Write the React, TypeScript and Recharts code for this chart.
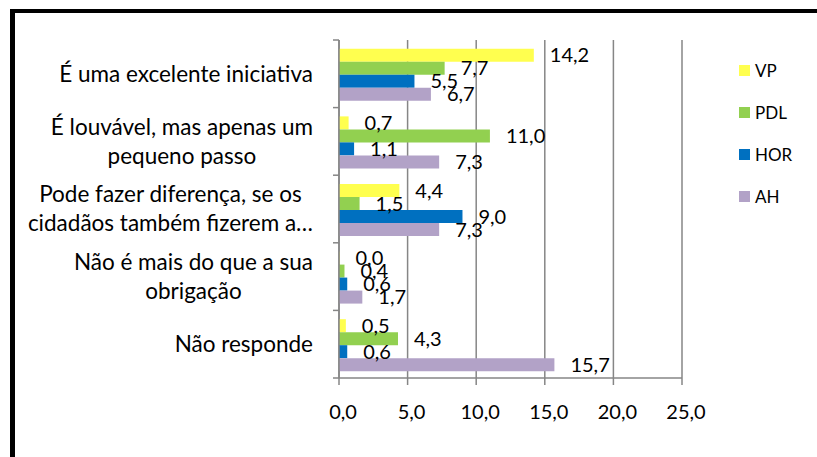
import React from "react";
import { BarChart, Bar, XAxis, YAxis, CartesianGrid, LabelList } from "recharts";

// Survey answers per party, horizontal grouped bars (values in %)

const categories = [
  "É uma excelente iniciativa",
  "É louvável, mas apenas um\npequeno passo",
  "Pode fazer diferença, se os\ncidadãos também fizerem a…",
  "Não é mais do que a sua\nobrigação",
  "Não responde",
];
const vp = [14.2, 0.7, 4.4, 0.0, 0.5];
const pdl = [7.7, 11.0, 1.5, 0.4, 4.3];
const hor = [5.5, 1.1, 9.0, 0.6, 0.6];
const ah = [6.7, 7.3, 7.3, 1.7, 15.7];
const xTicks = [0, 5, 10, 15, 20, 25];

const series = [
  { key: "VP", color: "#FFFF4F" },
  { key: "PDL", color: "#92D050" },
  { key: "HOR", color: "#0070C0" },
  { key: "AH", color: "#B2A2C7" },
];

const data = categories.map((name, i) => ({
  name,
  VP: vp[i],
  PDL: pdl[i],
  HOR: hor[i],
  AH: ah[i],
}));

const FONT = "Lato";
const GRID = "#868686";
const fmt = (v: number) => Number(v).toFixed(1).replace(".", ",");

let ctx: CanvasRenderingContext2D | null = null;
function textWidth(s: string, size: number): number {
  if (!ctx) ctx = document.createElement("canvas").getContext("2d");
  if (!ctx) return s.length * size * 0.5;
  ctx.font = `${size}px ${FONT}`;
  return ctx.measureText(s).width;
}

function CategoryTick(props: any) {
  const { x, y, payload, index, visibleTicksCount } = props;
  const size = 22.5;
  const lineH = 29;
  const lines = String(payload.value).split("\n");
  const blockW = Math.max(...lines.map((l) => textWidth(l, size)));
  const cx = x - 26 - blockW / 2;
  const half = payload.offset || 33.8;
  const first = y - ((lines.length - 1) * lineH) / 2;
  return (
    <g>
      <line x1={x - 6} x2={x} y1={y - half} y2={y - half} stroke={GRID} strokeWidth={1.5} />
      {index === visibleTicksCount - 1 && (
        <line x1={x - 6} x2={x} y1={y + half} y2={y + half} stroke={GRID} strokeWidth={1.5} />
      )}
      {lines.map((l, i) => (
        <text
          key={i}
          x={cx}
          y={first + i * lineH}
          dy="0.35em"
          textAnchor="middle"
          fontSize={size}
          fontFamily={FONT}
          fill="#000"
        >
          {l}
        </text>
      ))}
    </g>
  );
}

function ChartLegend() {
  return (
    <div
      style={{
        position: "absolute",
        left: 724,
        top: 36,
        fontFamily: FONT,
        fontSize: 17,
        color: "#000",
      }}
    >
      {series.map((s) => (
        <div key={s.key} style={{ height: 42, display: "flex", alignItems: "center" }}>
          <span style={{ width: 11, height: 11, background: s.color, display: "inline-block", marginRight: 5 }} />
          <span>{s.key}</span>
        </div>
      ))}
    </div>
  );
}

export default function App() {
  return (
    <div
      style={{
        position: "fixed",
        left: 10,
        top: 9,
        width: 802,
        height: 444,
        borderTop: "4px solid #000",
        borderLeft: "5px solid #000",
        background: "#fff",
        fontFamily: FONT,
      }}
    >
      <BarChart
        width={802}
        height={444}
        data={data}
        layout="vertical"
        margin={{ top: 27, right: 135, bottom: 29, left: 0 }}
        barCategoryGap="13%"
        barGap={0}
      >
        <CartesianGrid horizontal={false} stroke={GRID} strokeWidth={1.5} />
        <XAxis
          type="number"
          domain={[0, 25]}
          ticks={xTicks}
          tickFormatter={fmt}
          height={50}
          tickSize={7}
          tickMargin={20}
          axisLine={{ stroke: GRID, strokeWidth: 1.5 }}
          tickLine={{ stroke: GRID, strokeWidth: 1.5 }}
          tick={{ fontSize: 20, fill: "#000", fontFamily: FONT, dx: 4 }}
        />
        <YAxis
          type="category"
          dataKey="name"
          width={324}
          tickSize={0}
          tickMargin={0}
          tickLine={false}
          axisLine={{ stroke: GRID, strokeWidth: 1.5 }}
          tick={<CategoryTick />}
          interval={0}
        />
        {series.map((s) => (
          <Bar key={s.key} dataKey={s.key} fill={s.color} minPointSize={0.5} isAnimationActive={false}>
            <LabelList
              dataKey={s.key}
              position="right"
              offset={16}
              formatter={(v: any) => fmt(v)}
              style={{ fontSize: 20, fill: "#000", fontFamily: FONT }}
            />
          </Bar>
        ))}
      </BarChart>
      <ChartLegend />
    </div>
  );
}
